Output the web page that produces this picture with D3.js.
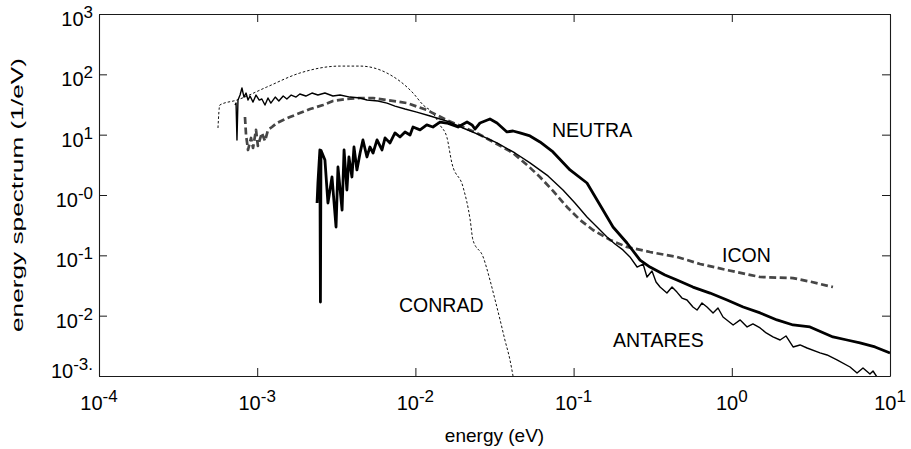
<!DOCTYPE html>
<html>
<head>
<meta charset="utf-8">
<script src="https://cdn.jsdelivr.net/npm/d3@7/dist/d3.min.js"></script>
<style>
  html, body { margin: 0; padding: 0; background: #fff; }
  svg { display: block; }
  text { font-family: "Liberation Sans", Arial, Helvetica, sans-serif; fill: #000; }
</style>
</head>
<body>
<svg id="chart" width="911" height="449"></svg>
<script>
// Energy spectra of four sources, [energy (eV), spectrum (1/eV)]
const conrad = [
  [5.65e-4, 12.9], [5.8e-4, 31.0], [7.45e-4, 37.5], [1.15e-3, 61.6], [1.86e-3, 105],
  [3.34e-3, 137], [4.47e-3, 137], [6.61e-3, 105], [9.66e-3, 49.0], [1.12e-2, 31.0],
  [1.29e-2, 22.8], [1.43e-2, 14.4], [1.58e-2, 9.14], [1.70e-2, 3.40], [2.00e-2, 1.36],
  [2.22e-2, 0.385], [2.31e-2, 0.18], [2.68e-2, 0.094], [2.96e-2, 0.039], [3.19e-2, 0.0182],
  [3.43e-2, 0.0085], [3.68e-2, 0.00395], [3.96e-2, 0.00185], [4.14e-2, 0.001]
];

const neutra = [
  [2.39e-3, 0.737], [2.42e-3, 1.58], [2.49e-3, 5.58], [2.51e-3, 0.0168], [2.53e-3, 5.5],
  [2.68e-3, 3.81], [2.80e-3, 0.737], [2.97e-3, 1.99], [3.15e-3, 0.295], [3.24e-3, 2.91],
  [3.44e-3, 0.564], [3.54e-3, 5.58], [3.69e-3, 1.21], [3.80e-3, 4.27], [3.97e-3, 1.99],
  [4.09e-3, 6.25], [4.27e-3, 2.60], [4.47e-3, 4.97], [4.66e-3, 8.17], [4.94e-3, 4.27],
  [5.16e-3, 6.25], [5.40e-3, 4.97], [5.72e-3, 8.17], [6.15e-3, 5.58], [6.43e-3, 8.82],
  [6.91e-3, 7.29], [7.43e-3, 10.7], [7.99e-3, 9.16], [8.60e-3, 11.1], [9.25e-3, 9.9],
  [9.66e-3, 13.4], [1.07e-2, 12.0], [1.18e-2, 14.5], [1.29e-2, 13.4], [1.43e-2, 16.2],
  [1.58e-2, 15.6], [1.86e-2, 13.4], [2.12e-2, 16.2], [2.28e-2, 14.5], [2.38e-2, 12.4],
  [2.56e-2, 15.6], [2.96e-2, 18.2], [3.28e-2, 15.6], [3.79e-2, 11.1], [4.14e-2, 11.5],
  [4.58e-2, 10.7], [5.30e-2, 9.52], [6.13e-2, 7.57], [7.41e-2, 5.17], [9.49e-2, 2.60],
  [0.1215, 1.58], [0.1469, 0.683], [0.1775, 0.295], [0.2175, 0.160], [0.263, 0.0836],
  [0.304, 0.064], [0.378, 0.0472], [0.450, 0.039], [0.568, 0.0298], [0.728, 0.0237],
  [0.933, 0.0182], [1.18, 0.0139], [1.51, 0.0111], [1.93, 0.0085], [2.44, 0.00701],
  [3.12, 0.0065], [4.36, 0.00444], [5.35, 0.00395], [6.46, 0.00353], [8.04, 0.00303],
  [10, 0.00241]
];

const antares = [
  [7.24e-4, 31.0], [7.35e-4, 33.4], [7.45e-4, 8.17], [7.56e-4, 37.5], [7.79e-4, 45.4],
  [8.01e-4, 59.3], [8.25e-4, 42.0], [8.50e-4, 49.0], [8.75e-4, 37.5], [9.01e-4, 43.7],
  [9.41e-4, 34.7], [9.83e-4, 45.4], [1.03e-3, 37.5], [1.07e-3, 39.0], [1.12e-3, 31.0],
  [1.17e-3, 40.5], [1.22e-3, 33.4], [1.30e-3, 42.0], [1.37e-3, 36.1], [1.46e-3, 43.7],
  [1.54e-3, 39.0], [1.64e-3, 45.4], [1.76e-3, 42.0], [1.86e-3, 47.2], [2.03e-3, 43.7],
  [2.22e-3, 49.0], [2.42e-3, 45.4], [2.68e-3, 49.0], [3.01e-3, 43.7], [3.34e-3, 45.4],
  [3.86e-3, 42.0], [4.47e-3, 40.5], [4.94e-3, 37.5], [5.80e-3, 36.1], [6.61e-3, 33.4],
  [7.43e-3, 29.8], [8.60e-3, 26.6], [1.02e-2, 23.7], [1.24e-2, 20.4], [1.65e-2, 16.2],
  [2.00e-2, 12.9], [2.56e-2, 9.86], [3.28e-2, 7.29], [4.26e-2, 4.97], [5.30e-2, 3.40],
  [6.89e-2, 2.07], [8.57e-2, 1.21], [0.102, 0.737], [0.1215, 0.432], [0.1406, 0.295],
  [0.1626, 0.201], [0.1826, 0.154], [0.205, 0.123], [0.227, 0.094], [0.252, 0.064],
  [0.275, 0.0718], [0.291, 0.0437], [0.313, 0.0549], [0.332, 0.0361], [0.352, 0.0298],
  [0.389, 0.0237], [0.419, 0.0298], [0.450, 0.0246], [0.484, 0.0196], [0.521, 0.0182],
  [0.568, 0.0139], [0.603, 0.0124], [0.648, 0.0162], [0.697, 0.0139], [0.761, 0.0111],
  [0.818, 0.0134], [0.880, 0.0095], [1.02, 0.00701], [1.13, 0.0085], [1.25, 0.0065],
  [1.36, 0.00729], [1.51, 0.00625], [1.65, 0.00517], [1.82, 0.00444], [2.02, 0.00395],
  [2.20, 0.00461], [2.44, 0.00303], [2.70, 0.00327], [2.99, 0.00291], [3.61, 0.00241],
  [4.00, 0.00223], [4.62, 0.00185], [5.59, 0.00141], [6.19, 0.00112], [6.75, 0.00136],
  [7.47, 0.00108], [7.81, 0.00121], [8.28, 0.00096]
];

const icon = [
  [8.37e-4, 19.6], [8.50e-4, 9.9], [8.75e-4, 5.58], [9.14e-4, 8.82], [9.41e-4, 6.02],
  [9.83e-4, 12.0], [1.01e-3, 6.50], [1.07e-3, 10.7], [1.12e-3, 7.86], [1.17e-3, 12.0],
  [1.24e-3, 13.4], [1.33e-3, 15.6], [1.46e-3, 17.5], [1.61e-3, 19.6], [1.86e-3, 22.8],
  [2.16e-3, 26.6], [2.61e-3, 31.0], [3.01e-3, 36.1], [3.69e-3, 39.0], [4.47e-3, 40.5],
  [5.40e-3, 40.5], [6.61e-3, 37.5], [8.85e-3, 33.4], [1.18e-2, 25.6], [1.58e-2, 17.5],
  [2.45e-2, 10.6], [3.19e-2, 7.29], [4.14e-2, 4.97], [5.08e-2, 3.15], [6.13e-2, 1.99],
  [7.41e-2, 1.17], [9.08e-2, 0.633], [0.110, 0.385], [0.1326, 0.263], [0.170, 0.180],
  [0.2175, 0.1375], [0.304, 0.1135], [0.450, 0.094], [0.630, 0.0718], [0.933, 0.0571],
  [1.51, 0.0437], [2.44, 0.0420], [3.21, 0.0361], [4.36, 0.0298]
];

// Axis ticks and their exponent labels
const xTicks = [1e-4, 1e-3, 1e-2, 1e-1, 1e0, 1e1];
const xTickExp = ["-4", "-3", "-2", "-1", "0", "1"];
const yTicks = [1e3, 1e2, 1e1, 1e0, 1e-1, 1e-2, 1e-3];
const yTickExp = ["3", "2", "1", "-0", "-1", "-2", "-3."];

// Curve names: [name, energy, spectrum] at the baseline start of each name
const curveLabels = [
  ["NEUTRA", 7.30e-2, 9.16],
  ["ICON", 0.867, 0.0775],
  ["ANTARES", 0.1775, 0.00303],
  ["CONRAD", 7.88e-3, 0.0115]
];

const svg = d3.select("#chart");
const margin = { left: 99, right: 21, top: 14, bottom: 73 };
const W = 911, H = 449;

const x = d3.scaleLog().domain([1e-4, 10]).range([margin.left, W - margin.right]);
const y = d3.scaleLog().domain([1e-3, 1e3]).range([H - margin.bottom, margin.top]);

svg.append("defs").append("clipPath").attr("id", "plotClip")
  .append("rect")
  .attr("x", x.range()[0]).attr("y", y.range()[1])
  .attr("width", x.range()[1] - x.range()[0])
  .attr("height", y.range()[0] - y.range()[1]);

// Box with inward ticks on all four sides
const tick = 8;
const styleAxis = g => {
  g.selectAll("path.domain").attr("stroke", "#1a1a1a").attr("stroke-width", 1.1);
  g.selectAll(".tick line").attr("stroke", "#1a1a1a").attr("stroke-width", 1);
  g.selectAll(".tick text").remove();
};
svg.append("g").attr("transform", `translate(0,${y.range()[0]})`)
  .call(d3.axisBottom(x).tickValues(xTicks).tickSizeInner(-tick).tickSizeOuter(0).tickFormat(""))
  .call(styleAxis);
svg.append("g").attr("transform", `translate(0,${y.range()[1]})`)
  .call(d3.axisTop(x).tickValues(xTicks).tickSizeInner(-tick).tickSizeOuter(0).tickFormat(""))
  .call(styleAxis);
svg.append("g").attr("transform", `translate(${x.range()[0]},0)`)
  .call(d3.axisLeft(y).tickValues(yTicks).tickSizeInner(-tick).tickSizeOuter(0).tickFormat(""))
  .call(styleAxis);
svg.append("g").attr("transform", `translate(${x.range()[1]},0)`)
  .call(d3.axisRight(y).tickValues(yTicks).tickSizeInner(-tick).tickSizeOuter(0).tickFormat(""))
  .call(styleAxis);

// Power-of-ten tick labels
const powLabel = (sel, exp) => {
  sel.append("tspan").text("10");
  sel.append("tspan").attr("dy", -8).attr("font-size", 17).text(exp);
};
xTicks.forEach((v, i) => {
  svg.append("text")
    .attr("x", x(v)).attr("y", y.range()[0] + 34)
    .attr("text-anchor", "middle").attr("font-size", 20)
    .call(powLabel, xTickExp[i]);
});
yTicks.forEach((v, i) => {
  const last = i === yTicks.length - 1;
  svg.append("text")
    .attr("x", x.range()[0] - 6).attr("y", y(v) + (last ? 2 : 12))
    .attr("text-anchor", "end").attr("font-size", 20)
    .call(powLabel, yTickExp[i]);
});

// Axis titles
svg.append("text")
  .attr("x", (x.range()[0] + x.range()[1]) / 2).attr("y", 442)
  .attr("text-anchor", "middle").attr("font-size", 19)
  .text("energy (eV)");
svg.append("text")
  .attr("transform", `translate(23,${(y.range()[0] + y.range()[1]) / 2}) rotate(-90)`)
  .attr("text-anchor", "middle").attr("font-size", 17)
  .attr("textLength", 274).attr("lengthAdjust", "spacingAndGlyphs")
  .text("energy spectrum (1/eV)");

// Spectra
const plot = svg.append("g").attr("clip-path", "url(#plotClip)");
const line = d3.line().x(d => x(d[0])).y(d => y(d[1]));
const smooth = d3.line().x(d => x(d[0])).y(d => y(d[1])).curve(d3.curveMonotoneX);

plot.append("path").datum(conrad).attr("d", smooth)
  .attr("fill", "none").attr("stroke", "#111").attr("stroke-width", 1)
  .attr("stroke-dasharray", "2.5,2");
plot.append("path").datum(icon).attr("d", line)
  .attr("fill", "none").attr("stroke", "#464646").attr("stroke-width", 2.7)
  .attr("stroke-dasharray", "7,3.5").attr("stroke-linejoin", "round");
plot.append("path").datum(antares).attr("d", line)
  .attr("fill", "none").attr("stroke", "#000").attr("stroke-width", 1.4)
  .attr("stroke-linejoin", "round");
plot.append("path").datum(neutra).attr("d", line)
  .attr("fill", "none").attr("stroke", "#000").attr("stroke-width", 2.8)
  .attr("stroke-linejoin", "round");

// Curve names
curveLabels.forEach(([name, e, s]) => {
  svg.append("text")
    .attr("x", x(e)).attr("y", y(s))
    .attr("font-size", 19.5)
    .text(name);
});
</script>
</body>
</html>
